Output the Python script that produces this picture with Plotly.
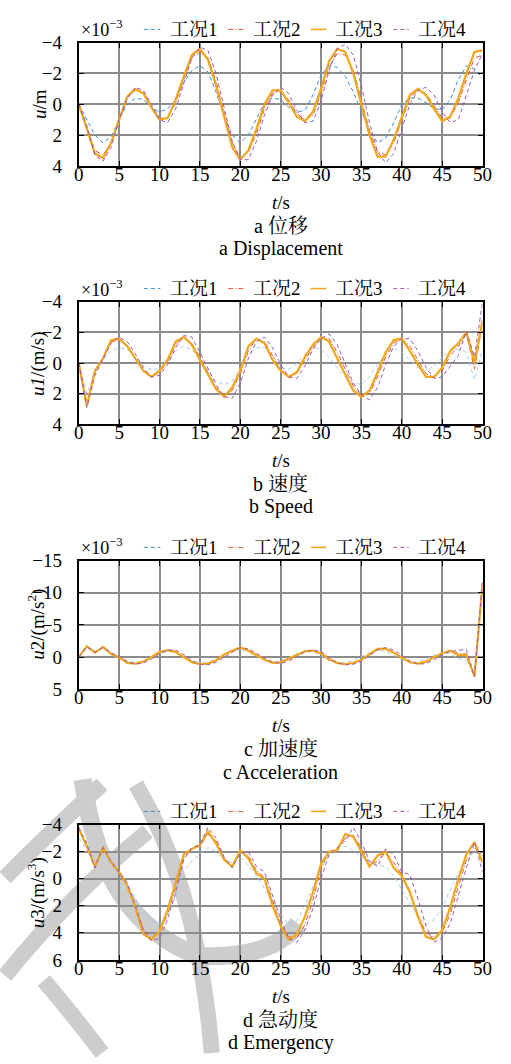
import plotly.graph_objects as go

W, H = 511, 1064

# time axis, s
t = list(range(51))

# ---- a: displacement u (x1e-3 m) ----
disp_1 = [0, 1.0, 2.0, 2.5, 2.1, 1.0, 0.0, -0.4, -0.3, 0.2, 0.5, 0.3, -0.3, -1.4, -2.2, -2.5, -2.1, -0.8, 0.8, 2.0,
          2.5, 2.0, 0.9, -0.1, -0.4, -0.3, 0.2, 0.5, 0.4, -0.6, -1.9, -2.5, -2.4, -1.8, -0.8, 0.4, 1.7, 2.5, 2.2, 1.2,
          0.0, -0.4, -0.4, -0.1, 0.3, 0.35, -0.3, -1.6, -2.5, -2.3, -1.7]
disp_2 = [0, 1.5, 3.0, 3.3, 2.5, 1.1, -0.4, -0.9, -0.8, 0.1, 0.9, 0.9, -0.1, -1.6, -3.0, -3.4, -3.0, -1.5, 0.5, 2.5,
          3.5, 3.1, 1.9, 0.3, -0.7, -0.8, -0.3, 0.6, 1.0, 0.7, -0.7, -2.4, -3.3, -3.2, -2.2, -0.3, 1.7, 3.1, 3.3, 2.5,
          1.0, -0.4, -0.9, -0.7, 0.1, 0.9, 0.9, -0.1, -1.6, -3.0, -3.2]
disp_3 = [0, 1.6, 3.2, 3.5, 2.5, 1.0, -0.5, -1.0, -0.7, 0.2, 1.0, 0.9, -0.3, -1.8, -3.2, -3.6, -2.9, -1.2, 0.8, 2.8,
          3.6, 3.0, 1.6, 0.0, -0.9, -0.9, -0.1, 0.8, 1.1, 0.5, -1.0, -2.8, -3.6, -3.4, -2.0, 0.0, 2.0, 3.4, 3.4, 2.3,
          0.8, -0.6, -1.0, -0.6, 0.3, 1.1, 0.8, -0.4, -2.0, -3.4, -3.5]
disp_4 = [0, 1.4, 3.3, 3.7, 2.8, 1.0, -0.4, -1.1, -0.9, 0.0, 1.0, 1.2, 0.3, -1.4, -3.0, -3.7, -3.5, -2.0, 0.2, 2.4,
          3.6, 3.6, 2.4, 0.7, -0.6, -1.1, -0.7, 0.4, 1.2, 1.1, -0.2, -2.2, -3.6, -3.9, -3.2, -1.2, 1.2, 3.1, 3.8, 3.2,
          1.6, 0.0, -0.9, -1.1, -0.6, 0.5, 1.2, 1.0, -0.6, -2.2, -3.3]

# ---- b: speed u1 (x1e-3 m/s) ----
speed_1 = [0, 2.0, 0.7, -0.2, -0.8, -1.0, -0.9, -0.4, 0.2, 0.4, 0.4, -0.1, -0.8, -1.1, -0.9, -0.3, 0.5, 1.2, 1.4, 1.2,
           0.3, -0.6, -1.0, -1.0, -0.5, 0.3, 0.4, 0.0, -0.6, -1.0, -0.9, -0.4, 0.3, 0.9, 1.3, 1.4, 0.9, 0.1, -0.6, -1.0,
           -0.7, -0.2, 0.3, 0.5, 0.2, -0.4, -0.8, -0.9, -0.7, 1.1, -0.9]
speed_2 = [0, 2.7, 0.6, -0.3, -1.4, -1.5, -1.1, -0.3, 0.5, 0.9, 0.6, -0.1, -1.2, -1.7, -1.3, -0.4, 0.6, 1.6, 2.1, 1.8,
           0.7, -0.8, -1.6, -1.4, -0.5, 0.4, 0.9, 0.7, -0.2, -1.0, -1.6, -1.6, -0.7, 0.4, 1.5, 2.1, 2.0, 0.9, -0.4, -1.3,
           -1.6, -1.1, -0.2, 0.7, 0.9, 0.5, -0.5, -1.1, -1.9, 0.4, -2.6]
speed_3 = [0, 2.8, 0.5, -0.3, -1.5, -1.6, -1.1, -0.3, 0.5, 0.9, 0.5, -0.2, -1.4, -1.7, -1.2, -0.2, 0.8, 1.7, 2.2, 1.6,
           0.5, -1.1, -1.6, -1.3, -0.2, 0.5, 0.9, 0.6, -0.4, -1.2, -1.7, -1.4, -0.3, 0.7, 1.8, 2.2, 1.8, 0.6, -0.7, -1.5,
           -1.6, -0.8, 0.1, 0.9, 0.9, 0.3, -0.8, -1.3, -2.0, 0.0, -2.8]
speed_4 = [0, 2.9, 0.8, -0.2, -1.3, -1.7, -1.4, -0.6, 0.3, 0.9, 0.8, 0.1, -1.0, -1.8, -1.7, -0.7, 0.4, 1.4, 2.2, 2.3,
           1.3, -0.3, -1.4, -1.7, -1.0, 0.1, 0.9, 1.0, 0.2, -0.9, -1.6, -1.9, -1.2, 0.1, 1.3, 2.1, 2.4, 1.6, 0.1, -1.1,
           -1.6, -1.6, -0.8, 0.3, 1.0, 0.9, 0.2, -0.5, -2.1, -0.4, -4.0]

# ---- c: acceleration u2 (x1e-3 m/s^2) ----
acc_1 = [0, -1.5, -0.6, -1.4, -0.5, 0.0, 0.6, 0.8, 0.6, 0.0, -0.6, -0.9, -0.7, 0.0, 0.6, 0.9, 0.8, 0.3, -0.4, -0.9,
         -1.2, -0.8, -0.2, 0.4, 0.7, 0.6, 0.1, -0.5, -0.9, -0.8, -0.2, 0.5, 0.8, 0.8, 0.5, -0.1, -0.7, -1.1, -0.9, -0.3,
         0.4, 0.8, 0.7, 0.3, -0.3, -0.7, -0.6, 0.2, 0.5, 2.4, -10.0]
acc_2 = [0, -1.7, -0.7, -1.6, -0.5, 0.0, 0.8, 1.0, 0.8, 0.1, -0.7, -1.1, -0.9, -0.1, 0.7, 1.1, 1.0, 0.6, -0.3, -1.0,
         -1.4, -1.1, -0.4, 0.3, 0.8, 0.9, 0.4, -0.3, -0.9, -1.0, -0.5, 0.5, 1.0, 1.1, 0.9, 0.4, -0.4, -1.2, -1.4, -0.8,
         0.0, 0.8, 1.0, 0.8, 0.1, -0.6, -1.0, -0.6, -0.5, 3.0, -11.6]
acc_3 = [0, -1.7, -0.7, -1.6, -0.5, 0.0, 0.9, 1.0, 0.7, 0.0, -0.8, -1.1, -0.8, 0.0, 0.8, 1.1, 1.0, 0.5, -0.4, -1.0,
         -1.5, -1.0, -0.3, 0.4, 0.9, 0.8, 0.2, -0.4, -0.9, -1.0, -0.6, 0.3, 0.9, 1.1, 0.9, 0.4, -0.5, -1.3, -1.3, -0.7,
         0.1, 0.8, 1.0, 0.7, 0.0, -0.6, -1.0, -0.3, -0.3, 3.0, -11.4]
acc_4 = [0, -1.6, -0.8, -1.5, -0.7, -0.1, 0.7, 1.1, 0.9, 0.3, -0.5, -1.1, -1.1, -0.4, 0.5, 1.1, 1.2, 0.8, 0.0, -0.8,
         -1.5, -1.3, -0.6, 0.2, 0.8, 1.0, 0.6, -0.1, -0.8, -1.1, -0.9, 0.1, 0.9, 1.2, 1.1, 0.6, -0.2, -1.1, -1.5, -1.1,
         -0.3, 0.6, 1.1, 1.0, 0.4, -0.4, -0.9, -1.0, -1.2, 3.0, -11.9]

# ---- d: jerk u3 (x1e-3 m/s^3) ----
jerk_1 = [-3.0, -2.2, -1.4, -1.7, -1.0, -0.4, 0.4, 1.4, 2.5, 3.1, 3.4, 2.6, 1.3, -0.6, -1.3, -1.8, -2.3, -2.0, -1.4,
          -1.2, -1.6, -1.0, -0.2, 0.7, 1.6, 2.6, 3.4, 3.1, 2.0, 0.6, -0.8, -1.7, -2.2, -2.4, -2.1, -1.6, -1.3, -1.0,
          -0.9, -0.2, 0.8, 1.8, 2.8, 3.4, 3.0, 2.2, 0.8, -0.4, -1.3, -2.0, -2.6]
jerk_2 = [-3.6, -2.5, -0.8, -2.4, -1.2, -0.4, 0.5, 2.0, 3.8, 4.3, 4.0, 2.6, 0.6, -1.5, -2.2, -2.4, -3.3, -2.8, -1.5,
          -0.9, -2.0, -1.7, -0.6, -0.1, 1.6, 3.4, 4.3, 4.4, 3.4, 1.6, -0.8, -2.0, -2.2, -3.0, -3.2, -2.3, -1.0, -1.3,
          -2.0, -1.2, -0.3, 0.9, 2.7, 4.0, 4.3, 4.0, 2.6, 0.6, -1.4, -2.3, -1.7]
jerk_3 = [-3.7, -2.4, -0.9, -2.3, -1.2, -0.5, 0.5, 2.1, 4.1, 4.5, 3.9, 2.3, 0.3, -1.8, -2.2, -2.5, -3.5, -2.6, -1.4,
          -0.9, -2.1, -1.5, -0.4, 0.0, 2.0, 3.5, 4.5, 4.1, 2.8, 1.0, -1.1, -2.0, -2.1, -3.3, -3.1, -2.0, -0.9, -1.7,
          -2.0, -0.8, -0.2, 1.0, 2.8, 4.3, 4.5, 3.8, 2.1, 0.0, -1.8, -2.7, -1.2]
jerk_4 = [-3.8, -2.6, -0.8, -2.3, -1.3, -0.5, 0.3, 2.0, 3.8, 4.6, 4.4, 3.0, 1.0, -1.4, -2.3, -2.5, -3.8, -3.0, -1.6,
          -0.8, -1.9, -2.0, -0.9, -0.5, 1.2, 3.0, 4.4, 4.7, 3.8, 2.2, 0.0, -1.8, -2.3, -2.8, -3.8, -2.7, -1.3, -0.9,
          -2.2, -1.8, -0.5, -0.3, 1.5, 3.5, 4.7, 4.4, 3.3, 1.2, -0.8, -2.7, -0.5]

series_names = ["工况1", "工况2", "工况3", "工况4"]
x_ticks = [0, 5, 10, 15, 20, 25, 30, 35, 40, 45, 50]

panels = [
    dict(data=[disp_1, disp_2, disp_3, disp_4], yticks=[-4, -2, 0, 2, 4], yrange=[4, -4],
         ytitle="<i>u</i>/m", cap_cn="a 位移", cap_en="a Displacement", scale=True,
         top=33.3, bottom=159.0, ytitle_y=96, ytitle_x=35),
    dict(data=[speed_1, speed_2, speed_3, speed_4], yticks=[-4, -2, 0, 2, 4], yrange=[4, -4],
         ytitle="<i>u1</i>/(m/s)", cap_cn="b 速度", cap_en="b Speed", scale=True,
         top=297.7, bottom=422.7, ytitle_y=361, ytitle_x=34),
    dict(data=[acc_1, acc_2, acc_3, acc_4], yticks=[-15, -10, -5, 0, 5], yrange=[5, -15],
         ytitle="<i>u</i>2/(m/s<sup>2</sup>)", cap_cn="c 加速度", cap_en="c Acceleration", scale=True,
         top=561.7, bottom=693.0, ytitle_y=627, ytitle_x=33),
    dict(data=[jerk_1, jerk_2, jerk_3, jerk_4], yticks=[-4, -2, 0, 2, 4, 6], yrange=[6, -4],
         ytitle="<i>u</i>3/(m/s<sup>3</sup>)", cap_cn="d 急动度", cap_en="d Emergency", scale=False,
         top=831.0, bottom=969.0, ytitle_y=901, ytitle_x=32),
]

PLOT_L, PLOT_R = 76, 492
FONT = "Liberation Serif, Noto Serif CJK SC, serif"
FS = 19


def px(x):
    return x / W


def py(y):
    return 1 - y / H


def minus(v):
    return str(v).replace("-", "\u2212")


blue_main = "#3a8ed3"
blue_soft = "#9cc9ec"
styles = [
    dict(color=blue_main, width=1.0, dash="4px,3px"),
    dict(color="#e4572e", width=1.0, dash="5px,2px,1px,2px"),
    dict(color="#f2a71b", width=2.2, dash="solid"),
    dict(color="#9b59b6", width=1.0, dash="4px,3px"),
]

fig = go.Figure()
shapes = []
annotations = []

for i, p in enumerate(panels, start=1):
    xa = "x" if i == 1 else f"x{i}"
    ya = "y" if i == 1 else f"y{i}"
    for k, vals in enumerate(p["data"]):
        st = dict(styles[k])
        if k == 0 and i > 1:
            st["color"] = blue_soft
            st["width"] = 0.9
        fig.add_trace(go.Scatter(x=t, y=vals, mode="lines", name=series_names[k], showlegend=False,
                                 line=st, xaxis=xa, yaxis=ya))
    grid = dict(showgrid=True, gridcolor="#8c8c8c", gridwidth=1.5, zeroline=False,
                showline=True, linecolor="black", linewidth=1.8, mirror="ticks",
                ticks="inside", ticklen=5, tickwidth=1.3, tickcolor="black",
                tickfont=dict(family=FONT, size=FS, color="black"))
    fig.layout[f"xaxis{'' if i == 1 else i}"] = dict(
        domain=[px(PLOT_L), px(PLOT_R)], range=[0, 50], tickvals=x_ticks,
        ticktext=[str(v) for v in x_ticks], anchor=ya, ticklabelstandoff=-10, **grid)
    fig.layout[f"yaxis{'' if i == 1 else i}"] = dict(
        domain=[py(p["bottom"]), py(p["top"])], range=p["yrange"], tickvals=p["yticks"],
        ticktext=[minus(v) for v in p["yticks"]], anchor=xa, ticklabelstandoff=11, **grid)

    top, bot = p["top"], p["bottom"]
    cx = (PLOT_L + PLOT_R) / 2
    # y-axis title
    annotations.append(dict(text=p["ytitle"], x=px(p["ytitle_x"]), y=py(p["ytitle_y"]), xref="paper", yref="paper",
                            textangle=-90, showarrow=False, xanchor="center", yanchor="middle",
                            font=dict(family=FONT, size=FS, color="black")))
    # x-axis title and captions
    for txt, off, fs in [("<i>t</i>/s", 37, FS), (p["cap_cn"], 61, 20), (p["cap_en"], 84, 20)]:
        annotations.append(dict(text=txt, x=px(cx), y=py(bot + off), xref="paper", yref="paper",
                                showarrow=False, xanchor="center", yanchor="middle",
                                font=dict(family=FONT, size=fs, color="black")))
    # scale factor
    if p["scale"]:
        annotations.append(dict(text="×10<sup>\u22123</sup>", x=px(76), y=py(top - 14), xref="paper", yref="paper",
                                showarrow=False, xanchor="left", yanchor="middle",
                                font=dict(family=FONT, size=18, color="black")))
    # legend row
    ly = top - 13.5
    keys = [(143, 160, 168), (230, 246, 253), (315, 331, 338), (400, 416, 423)]
    for k, (x0, x1, xt) in enumerate(keys):
        st = dict(styles[k])
        shapes.append(dict(type="line", xref="paper", yref="paper", x0=px(x0), x1=px(x1), y0=py(ly), y1=py(ly),
                           line=dict(color=st["color"], width=min(st["width"], 1.6),
                                     dash=st["dash"])))
        annotations.append(dict(text=series_names[k], x=px(xt), y=py(ly), xref="paper", yref="paper",
                                showarrow=False, xanchor="left", yanchor="middle",
                                font=dict(family=FONT, size=FS, color="black")))


def band(points, width):
    # smooth gray stroke through the given pixel points (quadratic segments)
    d = f"M {px(points[0][0]):.4f},{py(points[0][1]):.4f}"
    rest = points[1:]
    for j in range(0, len(rest) - 1, 2):
        (cx_, cy_), (ex, ey) = rest[j], rest[j + 1]
        d += f" Q {px(cx_):.4f},{py(cy_):.4f} {px(ex):.4f},{py(ey):.4f}"
    return dict(type="path", xref="paper", yref="paper", path=d, layer="below",
                line=dict(color="#cdcdcd", width=width))


# background emblem strokes
shapes += [
    band([(80, 785), (100, 930), (200, 965), (275, 968), (302, 932)], 18),
    band([(135, 790), (200, 900), (213, 1064)], 16),
    band([(147, 838), (70, 900), (0, 985)], 16),
    band([(100, 790), (50, 835), (0, 885)], 16),
    band([(40, 990), (70, 1025), (100, 1064)], 16),
]

fig.update_layout(width=W, height=H, margin=dict(l=0, r=0, t=0, b=0),
                  paper_bgcolor="white", plot_bgcolor="rgba(0,0,0,0)",
                  showlegend=False, shapes=shapes, annotations=annotations,
                  font=dict(family=FONT, size=FS, color="black"))

fig.write_html("out.html")
